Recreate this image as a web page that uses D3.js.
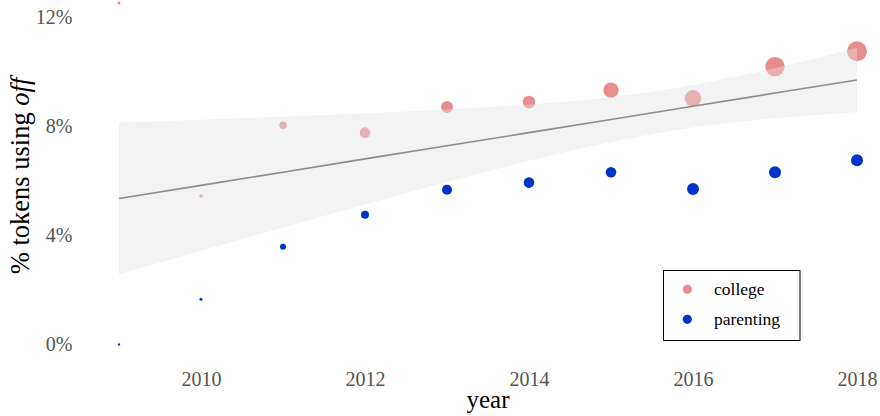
<!DOCTYPE html>
<html>
<head>
<meta charset="utf-8">
<script src="https://cdn.jsdelivr.net/npm/d3@7"></script>
<style>
  html, body { margin: 0; padding: 0; background: #fff; }
  svg { display: block; font-family: "Liberation Serif", "DejaVu Serif", serif; }
</style>
</head>
<body>
<svg id="chart" width="880" height="416"></svg>
<script>
// ---- data ----
const years = [2009, 2010, 2011, 2012, 2013, 2014, 2015, 2016, 2017, 2018];
const collegeValues   = [12.51, 5.44, 8.03, 7.76, 8.70, 8.88, 9.32, 9.02, 10.18, 10.74];
const collegeSizes    = [2.3, 3.2, 14, 28, 36, 40, 59, 69, 94, 100];
const parentingValues = [0.00, 1.66, 3.58, 4.75, 5.67, 5.93, 6.31, 5.70, 6.31, 6.75];
const parentingSizes  = [1.4, 2.3, 9, 16, 25, 28, 28, 36, 36, 36];
// fitted line and its confidence band
const fitValues   = [5.35, 5.83, 6.31, 6.80, 7.28, 7.76, 8.24, 8.73, 9.21, 9.69];
const bandUpper   = [8.13, 8.23, 8.34, 8.47, 8.61, 8.79, 9.06, 9.51, 10.13, 10.87];
const bandLower   = [2.57, 3.43, 4.28, 5.13, 5.95, 6.73, 7.42, 7.95, 8.29, 8.51];
const xTicks = [2010, 2012, 2014, 2016, 2018];
const yTicks = [0, 4, 8, 12];
const seriesNames = ["college", "parenting"];
const seriesColors = ["#e88d8d", "#0033cc"];

const svg = d3.select("#chart");
const x = d3.scaleLinear().domain([2009, 2018]).range([119, 857]);
const y = d3.scaleLinear().domain([0, 12]).range([344.5, 16.9]);
const r = d3.scaleSqrt().domain([0, 100]).range([0, 10]);

// axes
const xAxis = d3.axisBottom(x).tickValues(xTicks).tickFormat(d3.format("d")).tickSize(0).tickPadding(11.8);
const gx = svg.append("g").attr("transform", "translate(0,360)").call(xAxis);
gx.select(".domain").remove();
gx.selectAll("text").attr("font-size", 20).attr("fill", "#555").attr("font-family", "Liberation Serif, serif");

const yAxis = d3.axisLeft(y).tickValues(yTicks).tickFormat(d => d + "%").tickSize(0).tickPadding(7.7);
const gy = svg.append("g").attr("transform", "translate(80,0)").call(yAxis);
gy.select(".domain").remove();
gy.selectAll("text").attr("font-size", 20).attr("fill", "#555").attr("font-family", "Liberation Serif, serif");

// points
const series = [
  { name: seriesNames[0], color: seriesColors[0], values: collegeValues, sizes: collegeSizes },
  { name: seriesNames[1], color: seriesColors[1], values: parentingValues, sizes: parentingSizes }
];
series.forEach(s => {
  svg.append("g").selectAll("circle")
    .data(years.map((yr, i) => ({ yr, v: s.values[i], n: s.sizes[i] })))
    .join("circle")
    .attr("cx", d => x(d.yr))
    .attr("cy", d => y(d.v))
    .attr("r", d => r(d.n))
    .attr("fill", s.color);
});

// confidence band (drawn over the points, semi-transparent)
const band = years.map((yr, i) => ({ yr, lo: bandLower[i], hi: bandUpper[i] }));
svg.append("path")
  .datum(band)
  .attr("d", d3.area().x(d => x(d.yr)).y0(d => y(d.lo)).y1(d => y(d.hi)).curve(d3.curveMonotoneX))
  .attr("fill", "#e2e2e2")
  .attr("fill-opacity", 0.42);

// fitted line
svg.append("path")
  .datum(years.map((yr, i) => ({ yr, v: fitValues[i] })))
  .attr("d", d3.line().x(d => x(d.yr)).y(d => y(d.v)))
  .attr("fill", "none")
  .attr("stroke", "#8c8c8c")
  .attr("stroke-width", 1.6);

// axis titles
svg.append("text")
  .attr("x", 488).attr("y", 408)
  .attr("text-anchor", "middle")
  .attr("font-size", 25).attr("fill", "#000")
  .text("year");

const yt = svg.append("text")
  .attr("transform", "translate(29,176) rotate(-90)")
  .attr("text-anchor", "middle")
  .attr("font-size", 26.5).attr("fill", "#000");
yt.append("tspan").text("% tokens using ");
yt.append("tspan").attr("font-style", "italic").text("off");

// legend
const lg = svg.append("g");
lg.append("rect")
  .attr("x", 663.5).attr("y", 270.5).attr("width", 136.5).attr("height", 70)
  .attr("fill", "#fff").attr("stroke", "#000").attr("stroke-width", 1);
series.forEach((s, i) => {
  const cy = 289.3 + i * 30;
  lg.append("circle").attr("cx", 687.3).attr("cy", cy).attr("r", 4.6).attr("fill", s.color);
  lg.append("text").attr("x", 714).attr("y", cy + 5.5)
    .attr("font-size", 17.5).attr("fill", "#000").text(s.name);
});
</script>
</body>
</html>
